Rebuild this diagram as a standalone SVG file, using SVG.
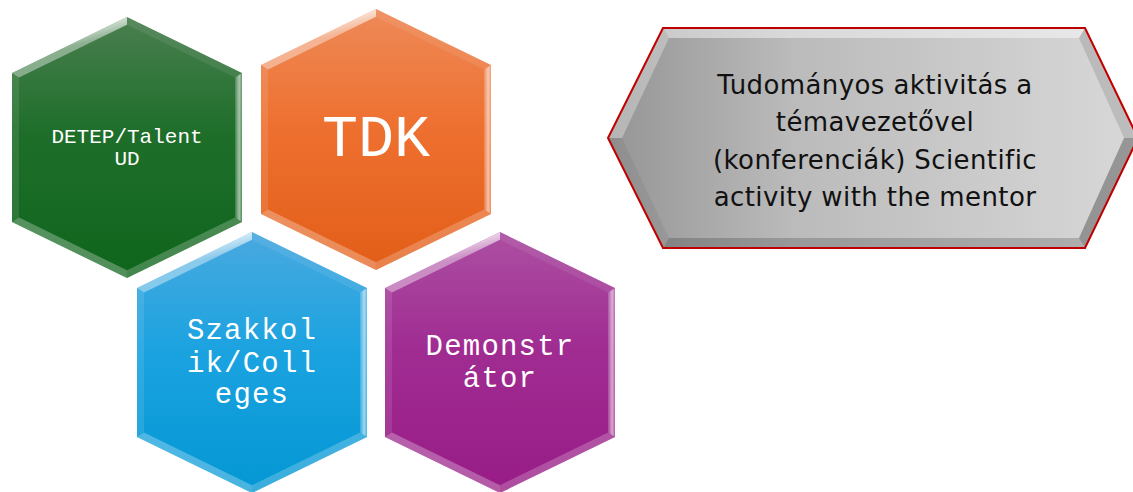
<svg xmlns="http://www.w3.org/2000/svg" width="1133" height="492" viewBox="0 0 1133 492">
<style>
.hexlabel{font-family:"Liberation Mono","Courier New",monospace;fill:#ffffff;text-anchor:middle}
.big{font-size:29px;letter-spacing:1.2px}
.graylabel{font-family:"DejaVu Sans",Verdana,sans-serif;font-size:26px;letter-spacing:0.4px;fill:#111111;text-anchor:middle}
</style>
<defs>
<linearGradient id="gGreen" x1="0" y1="0" x2="0" y2="1"><stop offset="0" stop-color="#4a7f50"/><stop offset="0.45" stop-color="#1e6e2a"/><stop offset="1" stop-color="#0f651c"/></linearGradient>
<linearGradient id="gOrange" x1="0" y1="0" x2="0" y2="1"><stop offset="0" stop-color="#ee8a58"/><stop offset="0.45" stop-color="#ee7030"/><stop offset="1" stop-color="#e25e18"/></linearGradient>
<linearGradient id="gBlue" x1="0" y1="0" x2="0" y2="1"><stop offset="0" stop-color="#4aa9df"/><stop offset="0.45" stop-color="#1ba3e0"/><stop offset="1" stop-color="#0397d4"/></linearGradient>
<linearGradient id="gPurple" x1="0" y1="0" x2="0" y2="1"><stop offset="0" stop-color="#ac4fa2"/><stop offset="0.45" stop-color="#a02c92"/><stop offset="1" stop-color="#981c86"/></linearGradient>
<linearGradient id="gGray" x1="0" y1="0" x2="1" y2="0"><stop offset="0" stop-color="#959595"/><stop offset="0.35" stop-color="#bbbbbb"/><stop offset="1" stop-color="#d8d8d8"/></linearGradient>
<linearGradient id="hlTL" x1="0" y1="0" x2="0.3" y2="0.6"><stop offset="0" stop-color="#ffffff" stop-opacity="0.35"/><stop offset="0.5" stop-color="#ffffff" stop-opacity="0.95"/><stop offset="1" stop-color="#ffffff" stop-opacity="0.4"/></linearGradient>
<linearGradient id="hlR" x1="0" y1="0" x2="1" y2="0"><stop offset="0" stop-color="#ffffff" stop-opacity="0.15"/><stop offset="0.6" stop-color="#ffffff" stop-opacity="0.6"/><stop offset="1" stop-color="#ffffff" stop-opacity="0.25"/></linearGradient>
<g id="bevel">
<polygon points="0,0 -115,56 -108,60.4 0,7.8" fill="url(#hlTL)"/>
<polygon points="0,0 0,7.8 108,60.4 115,56" fill="#ffffff" fill-opacity="0.08"/>
<polygon points="115,56 108,60.4 108,200.6 115,205" fill="url(#hlR)"/>
<polygon points="115,205 108,200.6 0,253.2 0,261" fill="#ffffff" fill-opacity="0.22"/>
<polygon points="-115,205 -108,200.6 0,253.2 0,261" fill="#ffffff" fill-opacity="0.28"/>
<polygon points="-115,56 -115,205 -108,200.6 -108,60.4" fill="#ffffff" fill-opacity="0.1"/>
</g>
<polygon id="hexShape" points="0,0 -115,56 -115,205 0,261 115,205 115,56"/>
</defs>

<g id="node-detep" transform="translate(127,17)">
<use href="#hexShape" fill="url(#gGreen)"/>
<use href="#bevel"/>
<text class="hexlabel" x="0" y="126" font-size="21">DETEP/Talent</text>
<text class="hexlabel" x="0" y="148" font-size="21">UD</text>
</g>

<g id="node-tdk" transform="translate(376,9)">
<use href="#hexShape" fill="url(#gOrange)"/>
<use href="#bevel"/>
<text class="hexlabel" x="0" y="147" font-size="60">TDK</text>
</g>

<g id="node-szakkolik" transform="translate(252,232)">
<use href="#hexShape" fill="url(#gBlue)"/>
<use href="#bevel"/>
<text class="hexlabel big" x="0" y="107">Szakkol</text>
<text class="hexlabel big" x="0" y="140">ik/Coll</text>
<text class="hexlabel big" x="0" y="171">eges</text>
</g>

<g id="node-demonstrator" transform="translate(500,232)">
<use href="#hexShape" fill="url(#gPurple)"/>
<use href="#bevel"/>
<text class="hexlabel big" x="0" y="123">Demonstr</text>
<text class="hexlabel big" x="0" y="155">átor</text>
</g>

<g id="node-scientific">
<polygon points="608,138 663,28 1085,28 1138,138 1085,248 663,248" fill="url(#gGray)"/>
<polygon points="663,28 1085,28 1079,38 669,38" fill="#ffffff" fill-opacity="0.45"/>
<polygon points="608,138 663,28 669,38 622,138" fill="#ffffff" fill-opacity="0.3"/>
<polygon points="608,138 622,138 669,238 663,248" fill="#000000" fill-opacity="0.05"/>
<polygon points="663,248 669,238 1079,238 1085,248" fill="#000000" fill-opacity="0.18"/>
<polygon points="1085,28 1138,138 1124,138 1079,38" fill="#000000" fill-opacity="0.12"/>
<polygon points="1138,138 1085,248 1079,238 1124,138" fill="#000000" fill-opacity="0.3"/>
<polygon points="608,138 663,28 1085,28 1138,138 1085,248 663,248" fill="none" stroke="#c00000" stroke-width="2"/>
<text class="graylabel" x="875" y="94">Tudományos aktivitás a</text>
<text class="graylabel" x="875" y="131">témavezetővel</text>
<text class="graylabel" x="875" y="169">(konferenciák) Scientific</text>
<text class="graylabel" x="875" y="206">activity with the mentor</text>
</g>

<g id="connectors"/>
</svg>
